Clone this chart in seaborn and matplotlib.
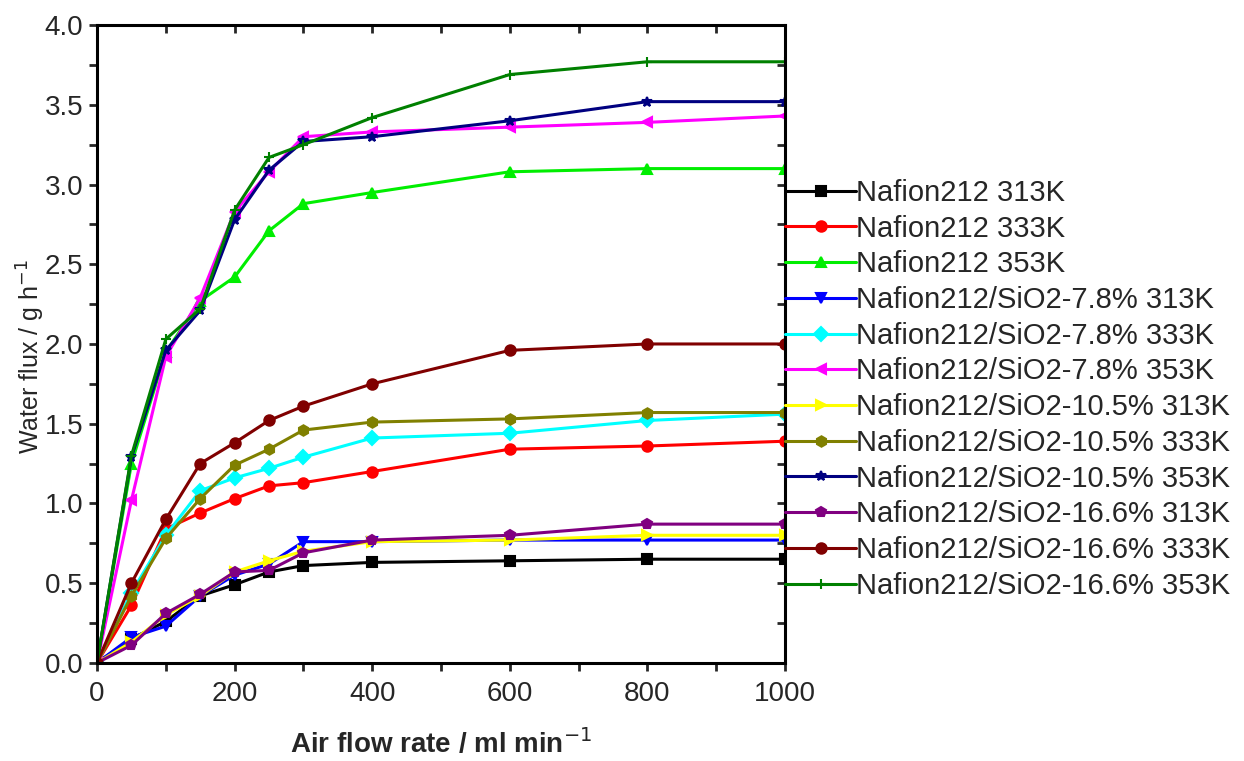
import numpy as np
import pandas as pd
import matplotlib
matplotlib.use('Agg')
import matplotlib.pyplot as plt
import seaborn as sns
from matplotlib.ticker import MultipleLocator

# air flow rate (ml/min)
flow = [0, 50, 100, 150, 200, 250, 300, 400, 600, 800, 1000]

# water flux (g/h)
n212_313 = [0, 0.15, 0.26, 0.42, 0.49, 0.57, 0.61, 0.63, 0.64, 0.65, 0.65]
n212_333 = [0, 0.36, 0.84, 0.94, 1.03, 1.11, 1.13, 1.20, 1.34, 1.36, 1.39]
n212_353 = [0, 1.25, 1.95, 2.27, 2.42, 2.71, 2.88, 2.95, 3.08, 3.10, 3.10]
si78_313 = [0, 0.16, 0.23, 0.42, 0.55, 0.62, 0.76, 0.76, 0.77, 0.77, 0.77]
si78_333 = [0, 0.44, 0.80, 1.08, 1.16, 1.22, 1.29, 1.41, 1.44, 1.52, 1.56]
si78_353 = [0, 1.02, 1.92, 2.29, 2.83, 3.08, 3.30, 3.33, 3.36, 3.39, 3.43]
si105_313 = [0, 0.13, 0.30, 0.42, 0.57, 0.64, 0.70, 0.76, 0.77, 0.80, 0.80]
si105_333 = [0, 0.42, 0.78, 1.03, 1.24, 1.34, 1.46, 1.51, 1.53, 1.57, 1.57]
si105_353 = [0, 1.29, 1.96, 2.21, 2.78, 3.09, 3.27, 3.30, 3.40, 3.52, 3.52]
si166_313 = [0, 0.11, 0.31, 0.43, 0.57, 0.58, 0.69, 0.77, 0.80, 0.87, 0.87]
si166_333 = [0, 0.50, 0.90, 1.25, 1.38, 1.52, 1.61, 1.75, 1.96, 2.00, 2.00]
si166_353 = [0, 1.30, 2.03, 2.22, 2.84, 3.17, 3.25, 3.42, 3.69, 3.77, 3.77]

labels = ['Nafion212 313K', 'Nafion212 333K', 'Nafion212 353K',
          'Nafion212/SiO2-7.8% 313K', 'Nafion212/SiO2-7.8% 333K', 'Nafion212/SiO2-7.8% 353K',
          'Nafion212/SiO2-10.5% 313K', 'Nafion212/SiO2-10.5% 333K', 'Nafion212/SiO2-10.5% 353K',
          'Nafion212/SiO2-16.6% 313K', 'Nafion212/SiO2-16.6% 333K', 'Nafion212/SiO2-16.6% 353K']
series = [n212_313, n212_333, n212_353, si78_313, si78_333, si78_353,
          si105_313, si105_333, si105_353, si166_313, si166_333, si166_353]
colors = ['#000000', '#ff0000', '#00ee00', '#0000ff', '#00ffff', '#ff00ff',
          '#ffff00', '#808000', '#000080', '#800080', '#800000', '#008000']
markers = ['s', 'o', '^', 'v', 'D', '<', '>', 'h', '*', 'p', 'o', '+']

sns.set_style('ticks')
plt.rcParams['font.family'] = ['Liberation Sans', 'DejaVu Sans']

fig = plt.figure(figsize=(12.44, 7.61), dpi=100)
ax = fig.add_axes([0.078, 0.129, 0.553, 0.838])

for lab, vals, c, m in zip(labels, series, colors, markers):
    df = pd.DataFrame({'flow': flow, 'flux': vals})
    sns.lineplot(data=df, x='flow', y='flux', ax=ax, color=c, marker=m,
                 markersize=7.5, markeredgecolor=c, markeredgewidth=1.5,
                 linewidth=2.2, label=lab)

ax.set_xlim(0, 1000)
ax.set_ylim(0, 4.0)
ax.xaxis.set_major_locator(MultipleLocator(200))
ax.xaxis.set_minor_locator(MultipleLocator(100))
ax.yaxis.set_major_locator(MultipleLocator(0.5))
ax.yaxis.set_minor_locator(MultipleLocator(0.25))
ax.yaxis.set_major_formatter(matplotlib.ticker.FormatStrFormatter('%.1f'))

for s in ax.spines.values():
    s.set_linewidth(2.2)
    s.set_color('black')
ax.tick_params(which='both', direction='out', width=2, length=6,
               labelsize=20, pad=4, top=False, right=False)
ax.tick_params(axis='x', which='both', pad=7)

# inward ticks on the top and right frame
ax_top = ax.secondary_xaxis('top')
ax_top.xaxis.set_major_locator(MultipleLocator(100))
ax_top.tick_params(direction='in', length=6, width=2, labeltop=False)
ax_right = ax.secondary_yaxis('right')
ax_right.yaxis.set_major_locator(MultipleLocator(0.25))
ax_right.tick_params(direction='in', length=6, width=2, labelright=False)

ax.set_xlabel('Air flow rate / ml min$^{-1}$', fontsize=20, fontweight='bold', labelpad=15)
ax.set_ylabel('Water flux / g h$^{-1}$', fontsize=18)
ax.yaxis.set_label_coords(-0.073, 0.48)

ax.legend(loc='upper left', bbox_to_anchor=(1.0, 0.759), frameon=False,
          fontsize=21, borderaxespad=0, borderpad=0, handlelength=2.45,
          handletextpad=0.0, labelspacing=0.265)

plt.savefig('out.png', dpi=100)
